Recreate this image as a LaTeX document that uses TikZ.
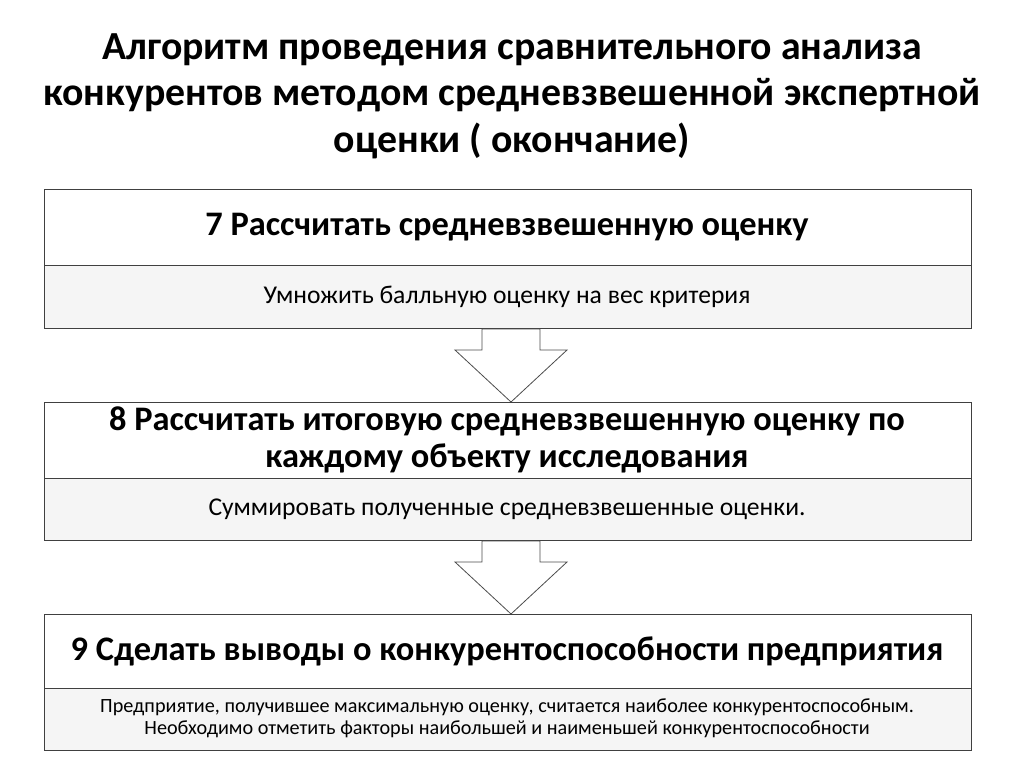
\documentclass[tikz,border=0pt]{standalone}
\usepackage{fontspec}
\setmainfont{Carlito}
\begin{document}
\begin{tikzpicture}[x=1pt,y=-1pt,
  box/.style={draw=black!75,line width=0.8pt},
  sub/.style={draw=black!75,line width=0.8pt,fill=black!4},
  arr/.style={draw=black!70,line width=0.8pt,fill=white}]
\useasboundingbox (0,0) rectangle (1024,767);
\node[font=\bfseries\fontsize{39.8}{46.5}\selectfont,align=center] (t) at (512,96) {Алгоритм проведения сравнительного анализа\\конкурентов методом средневзвешенной экспертной\\оценки ( окончание)};
% box 7
\draw[sub] (44,265) rectangle (971,328);
\draw[box] (44,189) rectangle (971,328);
\node[font=\bfseries\fontsize{34.4}{38}\selectfont] (h7) at (507,227) {7 Рассчитать средневзвешенную оценку};
\node[font=\fontsize{25.6}{30}\selectfont] (s7) at (507,297) {Умножить балльную оценку на вес критерия};
\draw[arr] (482,329) -- (540,329) -- (540,350) -- (567,350) -- (511,402) -- (455,350) -- (482,350) -- cycle;
% box 8
\draw[sub] (44,478) rectangle (971,540);
\draw[box] (44,402) rectangle (971,540);
\node[font=\bfseries\fontsize{34.4}{37}\selectfont,align=center] (h8) at (507,440) {8 Рассчитать итоговую средневзвешенную оценку по\\каждому объекту исследования};
\node[font=\fontsize{25.6}{30}\selectfont] (s8) at (507,509) {Суммировать полученные средневзвешенные оценки.};
\draw[arr] (482,541) -- (540,541) -- (540,562) -- (567,562) -- (511,614) -- (455,562) -- (482,562) -- cycle;
% box 9
\draw[sub] (44,688) rectangle (971,750);
\draw[box] (44,614) rectangle (971,750);
\node[font=\bfseries\fontsize{34.4}{38}\selectfont] (h9) at (507,651) {9 Сделать выводы о конкурентоспособности предприятия};
\node[font=\fontsize{20.2}{22}\selectfont,align=center] (s9) at (507,718) {Предприятие, получившее максимальную оценку, считается наиболее конкурентоспособным.\\Необходимо отметить факторы наибольшей и наименьшей конкурентоспособности};
\end{tikzpicture}
\end{document}
